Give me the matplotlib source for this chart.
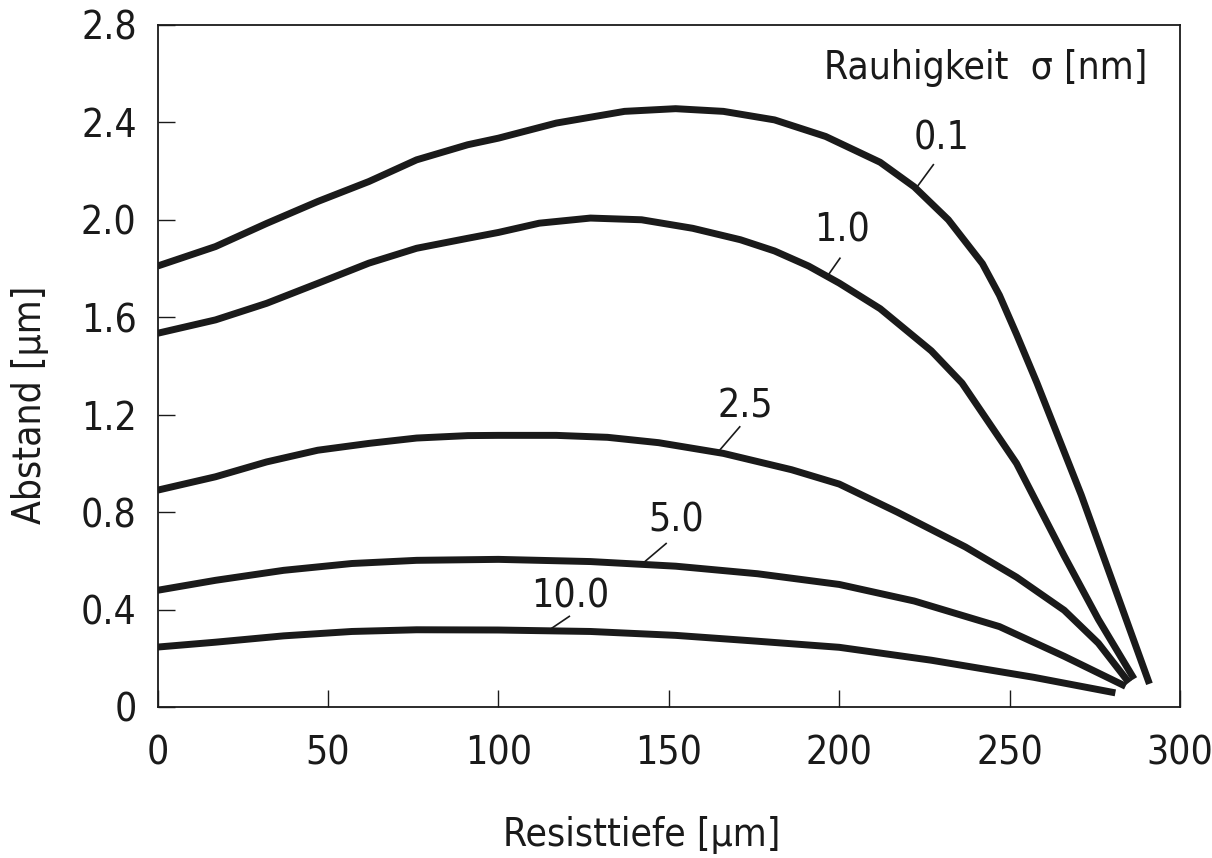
import matplotlib
matplotlib.use("Agg")
import matplotlib.pyplot as plt

# Abstand vs. Resisttiefe for several surface roughness values
depth_01 = [0, 17, 32, 47, 62, 76, 91, 100, 117, 137, 152, 166, 181, 196, 212, 222, 232, 242, 247, 252, 258, 271, 291]
dist_01 = [1.81, 1.89, 1.985, 2.075, 2.157, 2.246, 2.308, 2.335, 2.397, 2.445, 2.456, 2.445, 2.41, 2.342, 2.236, 2.135, 2.0, 1.82, 1.69, 1.53, 1.33, 0.87, 0.095]

depth_10 = [0, 17, 32, 47, 62, 76, 91, 100, 112, 127, 142, 157, 171, 181, 191, 200, 212, 227, 236, 252, 266, 276, 286.5]
dist_10 = [1.534, 1.589, 1.657, 1.739, 1.822, 1.883, 1.924, 1.948, 1.986, 2.007, 2.0, 1.965, 1.918, 1.872, 1.81, 1.74, 1.635, 1.462, 1.33, 1.0, 0.62, 0.36, 0.115]

depth_25 = [0, 17, 32, 47, 62, 76, 91, 100, 117, 132, 147, 166, 186, 200, 217, 237, 252, 266, 276, 285]
dist_25 = [0.89, 0.945, 1.006, 1.054, 1.082, 1.104, 1.114, 1.115, 1.115, 1.107, 1.085, 1.041, 0.974, 0.915, 0.8, 0.657, 0.533, 0.397, 0.262, 0.10]

depth_50 = [0, 17, 37, 57, 76, 100, 127, 152, 176, 200, 222, 247, 266, 284]
dist_50 = [0.479, 0.52, 0.561, 0.589, 0.602, 0.606, 0.597, 0.578, 0.547, 0.503, 0.435, 0.33, 0.208, 0.085]

depth_100 = [0, 17, 37, 57, 76, 100, 127, 152, 176, 200, 227, 257, 281]
dist_100 = [0.246, 0.266, 0.292, 0.31, 0.317, 0.316, 0.31, 0.294, 0.27, 0.245, 0.192, 0.122, 0.058]

curves = [
    (depth_01, dist_01),
    (depth_10, dist_10),
    (depth_25, dist_25),
    (depth_50, dist_50),
    (depth_100, dist_100),
]

# curve labels: text, text position, leader line start and end
labels = ["0.1", "1.0", "2.5", "5.0", "10.0"]
label_pos = [(230, 2.335), (200.7, 1.958), (172.4, 1.232), (152.1, 0.767), (121, 0.454)]
leader_from = [(227.6, 2.226), (200.2, 1.842), (170.8, 1.15), (149.2, 0.671), (120.8, 0.372)]
leader_to = [(222.2, 2.123), (196.8, 1.774), (164.9, 1.054), (142.8, 0.595), (115.4, 0.321)]

x_ticks = [0, 50, 100, 150, 200, 250, 300]
y_ticks = [0, 0.4, 0.8, 1.2, 1.6, 2.0, 2.4, 2.8]
y_ticklabels = ["0", "0.4", "0.8", "1.2", "1.6", "2.0", "2.4", "2.8"]

plt.rcParams['font.family'] = ['DejaVu Sans']
plt.rcParams['font.stretch'] = 'condensed'
FS = 28
INK = '#1a1a1a'

fig = plt.figure(figsize=(12.12, 8.58), dpi=100)
ax = fig.add_axes([0.130, 0.176, 0.8437, 0.795])

for xs, ys in curves:
    ax.plot(xs, ys, color=INK, lw=5, solid_capstyle='butt', solid_joinstyle='round')

for txt, (tx, ty), (x0, y0), (x1, y1) in zip(labels, label_pos, leader_from, leader_to):
    ax.text(tx, ty, txt, fontsize=FS, ha='center', va='center', color=INK)
    ax.plot([x0, x1], [y0, y1], color=INK, lw=1.2)

ax.text(290.4, 2.623, "Rauhigkeit  \u03c3 [nm]", fontsize=FS, ha='right', va='center', color=INK)

ax.set_xlim(0, 300)
ax.set_ylim(0, 2.8)
ax.set_xticks(x_ticks)
ax.set_xticklabels([str(v) for v in x_ticks])
ax.set_yticks(y_ticks)
ax.set_yticklabels(y_ticklabels)
ax.tick_params(axis='both', direction='in', length=12.5, width=1.0, labelsize=FS, colors=INK)
ax.tick_params(axis='x', pad=20)
ax.tick_params(axis='y', pad=15)
for sp in ax.spines.values():
    sp.set_linewidth(1.3)
    sp.set_color(INK)

fig.text(642 / 1212, 1 - 835 / 858, "Resisttiefe [\u00b5m]", fontsize=FS, ha='center', va='center', color=INK)
fig.text(30 / 1212, 1 - 405 / 858, "Abstand [\u00b5m]", fontsize=FS, ha='center', va='center', rotation=90, color=INK)

fig.savefig("out.png", dpi=100, facecolor='white')
